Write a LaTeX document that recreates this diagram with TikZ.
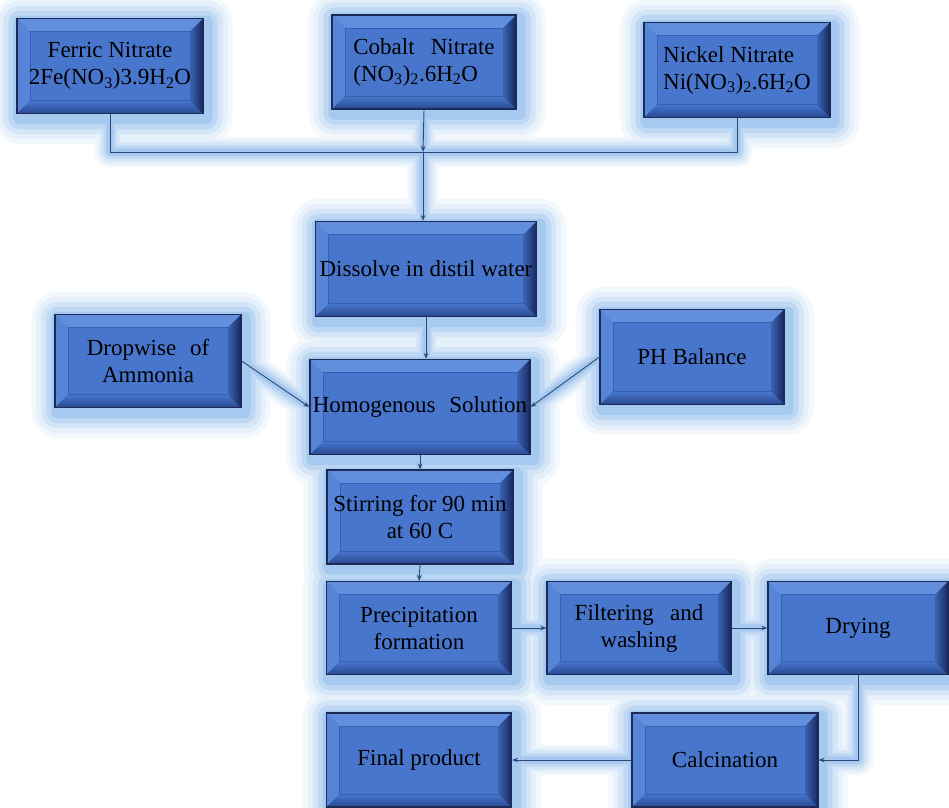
\documentclass[tikz,border=0pt]{standalone}
\usepackage{fontspec}
\setmainfont{Liberation Serif}
\usetikzlibrary{calc,arrows.meta,backgrounds}
\definecolor{face}{RGB}{72,118,205}
\definecolor{edge}{RGB}{28,42,85}
\definecolor{bevtop}{RGB}{98,142,222}
\definecolor{bevleft}{RGB}{86,132,215}
\definecolor{bevbot}{RGB}{40,72,145}
\definecolor{bevright}{RGB}{22,40,95}
\definecolor{innerl}{RGB}{55,95,178}
\definecolor{glowc}{RGB}{105,165,228}
\definecolor{linec}{RGB}{45,72,120}
\begin{document}
\begin{tikzpicture}[x=1pt,y=-1pt,
 box/.style={draw=edge,line width=1.2pt,fill=face,inner sep=0pt,align=center,text=black,
   font=\rmfamily\fontsize{23}{27}\selectfont,
   path picture={
     \coordinate (bsw) at (path picture bounding box.south west);
     \coordinate (bne) at (path picture bounding box.north east);
     \coordinate (bnw) at (bsw|-bne);
     \coordinate (bse) at (bne|-bsw);
     \coordinate (inw) at ($(bnw)+(13pt,-13pt)$);
     \coordinate (ine) at ($(bne)+(-13pt,-13pt)$);
     \coordinate (ise) at ($(bse)+(-13pt,13pt)$);
     \coordinate (isw) at ($(bsw)+(13pt,13pt)$);
     \fill[bevtop] (bnw)--(bne)--(ine)--(inw)--cycle;
     \fill[bevleft] (bnw)--(inw)--(isw)--(bsw)--cycle;
     \shade[top color=face, bottom color=bevbot] (bsw)--(isw)--(ise)--(bse)--cycle;
     \shade[left color=face!75!bevright, right color=bevright] (bne)--(bse)--(ise)--(ine)--cycle;
     \draw[innerl,line width=0.7pt] (inw) rectangle (ise);
   }},
 conn/.style={draw=linec,line width=0.9pt},
 arr/.style={conn,-{Stealth[length=6pt,width=4.5pt]}}]
\useasboundingbox (0,0) rectangle (949,807);

\node[box,minimum width=186pt,minimum height=95pt] (fer) at (110,66) {Ferric Nitrate\\2Fe(NO\textsubscript{3})3.9H\textsubscript{2}O};
\node[box,minimum width=184pt,minimum height=94pt,align=left] (cob) at (424,62) {Cobalt\hspace{0.45em} Nitrate\\(NO\textsubscript{3})\textsubscript{2}.6H\textsubscript{2}O};
\node[box,minimum width=186pt,minimum height=95pt,align=left] (nic) at (737,70) {Nickel Nitrate\\Ni(NO\textsubscript{3})\textsubscript{2}.6H\textsubscript{2}O};
\node[box,minimum width=221pt,minimum height=95pt] (dis) at (426,269) {Dissolve in distil water};
\node[box,minimum width=186pt,minimum height=93pt] (drop) at (148,361) {Dropwise\hspace{0.35em} of\\Ammonia};
\node[box,minimum width=184pt,minimum height=95pt] (ph) at (692,357) {PH Balance};
\node[box,minimum width=220pt,minimum height=95pt] (hom) at (420,407) {Homogenous\hspace{0.35em} Solution};
\node[box,minimum width=186pt,minimum height=94pt] (stir) at (420,517) {Stirring for 90 min\\at 60 C};
\node[box,minimum width=185pt,minimum height=93pt] (prec) at (419,628) {Precipitation\\formation};
\node[box,minimum width=184pt,minimum height=93pt] (filt) at (639,628) {Filtering\hspace{0.45em} and\\washing};
\node[box,minimum width=180pt,minimum height=93pt] (dry) at (858,628) {Drying};
\node[box,minimum width=185pt,minimum height=94pt] (fin) at (419,760) {Final product};
\node[box,minimum width=186pt,minimum height=94pt] (cal) at (725,760) {Calcination};

\coordinate (J) at (423,152);

\begin{scope}[on background layer]
\foreach \d/\c in {26/8,21/17,16/29,11/43,6/60}{
  \foreach \n in {fer,cob,nic,dis,drop,ph,hom,stir,prec,filt,dry,fin,cal}{
    \fill[glowc!\c,rounded corners=\d pt]
      ($(\n.north west)+(-\d pt+3pt,\d pt-4pt)$) rectangle ($(\n.south east)+(\d pt+3pt,-\d pt-4pt)$);
  }
  \draw[glowc!\c,line width={\d*1.2pt},line cap=round,line join=round]
    (fer.south) -- (fer.south |- J) -- (nic.south |- J) -- (nic.south)
    (cob.south) -- (J) -- (J |- dis.north)
    (dis.south) -- (dis.south |- hom.north)
    (drop.east) -- (hom.west)
    (ph.west) -- (hom.east)
    (hom.south) -- (stir.north)
    (stir.south) -- (prec.north)
    (prec.east) -- (filt.west)
    (filt.east) -- (dry.west)
    (dry.south) -- (dry.south |- cal.east) -- (cal.east)
    (cal.west) -- (fin.east);
}
\end{scope}

\draw[conn] (fer.south) -- (fer.south |- J) -- (nic.south |- J) -- (nic.south);
\draw[arr] (cob.south) -- (J);
\draw[arr] (J) -- (J |- dis.north);
\draw[arr] (dis.south) -- (dis.south |- hom.north);
\draw[arr] (drop.east) -- (hom.west);
\draw[arr] (ph.west) -- (hom.east);
\draw[arr] (hom.south) -- (stir.north);
\draw[arr] (stir.south) -- (prec.north);
\draw[arr] (prec.east) -- (filt.west);
\draw[arr] (filt.east) -- (dry.west);
\draw[arr] (dry.south) -- (dry.south |- cal.east) -- (cal.east);
\draw[arr] (cal.west) -- (fin.east);
\end{tikzpicture}
\end{document}
